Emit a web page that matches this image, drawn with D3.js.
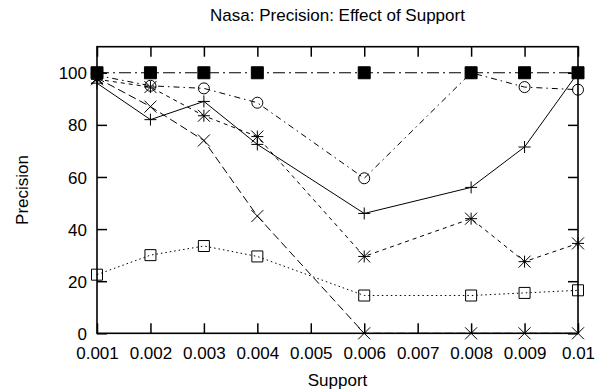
<!DOCTYPE html>
<html>
<head>
<meta charset="utf-8">
<script src="https://cdn.jsdelivr.net/npm/d3@7"></script>
<style>
  body { margin: 0; background: #fff; }
  svg text { font-family: "Liberation Sans", Arial, Helvetica, sans-serif; fill: #000; }
</style>
</head>
<body>
<svg id="chart" width="607" height="392"></svg>
<script>
// Support thresholds and measured precision per configuration
const supports = [0.001, 0.002, 0.003, 0.004, 0.006, 0.008, 0.009, 0.01];
const xTicks = [0.001, 0.002, 0.003, 0.004, 0.005, 0.006, 0.007, 0.008, 0.009, 0.01];
const xTickLabels = ["0.001", "0.002", "0.003", "0.004", "0.005", "0.006", "0.007", "0.008", "0.009", "0.01"];
const yTicks = [0, 20, 40, 60, 80, 100];

const precisionPlus    = [96, 82, 89, 72.5, 46, 56, 71.5, 100];
const precisionCross   = [98, 87, 74, 45, 0, 0, 0, 0];
const precisionStar    = [97.5, 94.5, 83.5, 75.5, 29.5, 44, 27.5, 34.5];
const precisionBox     = [22.5, 30, 33.5, 29.5, 14.5, 14.5, 15.5, 16.5];
const precisionFilled  = [100, 100, 100, 100, 100, 100, 100, 100];
const precisionCircle  = [99, 95, 94, 88.5, 59.5, 100, 94.5, 93.5];

const title = "Nasa: Precision: Effect of Support";
const xLabel = "Support";
const yLabel = "Precision";

const W = 607, H = 392;
const margin = { top: 46.7, right: 29, bottom: 58.7, left: 97 };
const iw = W - margin.left - margin.right;
const ih = H - margin.top - margin.bottom;

const svg = d3.select("#chart");
const g = svg.append("g").attr("transform", `translate(${margin.left},${margin.top})`);

const x = d3.scaleLinear().domain([0.001, 0.01]).range([0, iw]);
const y = d3.scaleLinear().domain([0, 110]).range([ih, 0]);

const FS = 17;
const tickLen = 10;

// frame
g.append("rect").attr("x", 0).attr("y", 0).attr("width", iw).attr("height", ih)
  .attr("fill", "none").attr("stroke", "#000").attr("stroke-width", 1.6);

// axes with inward ticks on all four sides
const axB = g.append("g").attr("transform", `translate(0,${ih})`)
  .call(d3.axisBottom(x).tickValues(xTicks).tickSize(-tickLen).tickPadding(14)
    .tickFormat((d, i) => xTickLabels[i]));
const axT = g.append("g")
  .call(d3.axisTop(x).tickValues(xTicks).tickSize(-tickLen).tickFormat(""));
const axL = g.append("g")
  .call(d3.axisLeft(y).tickValues(yTicks).tickSize(-tickLen).tickPadding(10).tickFormat(d3.format("d")));
const axR = g.append("g").attr("transform", `translate(${iw},0)`)
  .call(d3.axisRight(y).tickValues(yTicks).tickSize(-tickLen).tickFormat(""));

[axB, axT, axL, axR].forEach(a => {
  a.select(".domain").remove();
  a.selectAll(".tick line").attr("stroke", "#000").attr("stroke-width", 1.5);
  a.selectAll(".tick text").attr("font-size", FS).attr("font-family", null);
});
axB.selectAll(".tick text").attr("dy", "0.71em");
axL.selectAll(".tick text").attr("dy", "0.36em");

// titles
svg.append("text").attr("x", margin.left + iw / 2).attr("y", 21)
  .attr("text-anchor", "middle").attr("font-size", FS).text(title);
svg.append("text").attr("x", margin.left + iw / 2).attr("y", 386)
  .attr("text-anchor", "middle").attr("font-size", FS).text(xLabel);
svg.append("text").attr("transform", `translate(28,${margin.top + ih / 2}) rotate(-90)`)
  .attr("text-anchor", "middle").attr("font-size", FS).text(yLabel);

// marker shapes
const m = 6;
const cp = d3.path(); cp.arc(0, 0, m - 0.5, 0, 2 * Math.PI);
const markers = {
  plus:   `M${-m},0H${m}M0,${-m}V${m}`,
  cross:  `M${-m},${-m}L${m},${m}M${-m},${m}L${m},${-m}`,
  star:   `M${-m},0H${m}M0,${-m}V${m}M${-m},${-m}L${m},${m}M${-m},${m}L${m},${-m}`,
  box:    `M${-m + 0.5},${-m + 0.5}H${m - 0.5}V${m - 0.5}H${-m + 0.5}Z`,
  filled: `M${-m},${-m}H${m}V${m}H${-m}Z`,
  circle: cp.toString()
};

const series = [
  { values: precisionPlus,   dash: null,        marker: "plus",   fill: "none" },
  { values: precisionCross,  dash: "8,4",       marker: "cross",  fill: "none" },
  { values: precisionStar,   dash: "4,4",       marker: "star",   fill: "none" },
  { values: precisionBox,    dash: "1.5,3",     marker: "box",    fill: "none" },
  { values: precisionFilled, dash: "12,4,2,4",  marker: "filled", fill: "#000" },
  { values: precisionCircle, dash: "6,4,1.5,4", marker: "circle", fill: "none" }
];

const line = d3.line().x((d, i) => x(supports[i])).y(d => y(d));

series.forEach(s => {
  g.append("path").datum(s.values).attr("d", line)
    .attr("fill", "none").attr("stroke", "#000").attr("stroke-width", 1)
    .attr("stroke-dasharray", s.dash);
});
series.forEach(s => {
  g.append("g").selectAll("path").data(s.values).join("path")
    .attr("transform", (d, i) => `translate(${x(supports[i])},${y(d)})`)
    .attr("d", markers[s.marker])
    .attr("fill", s.fill)
    .attr("stroke", "#000").attr("stroke-width", 1);
});
</script>
</body>
</html>
